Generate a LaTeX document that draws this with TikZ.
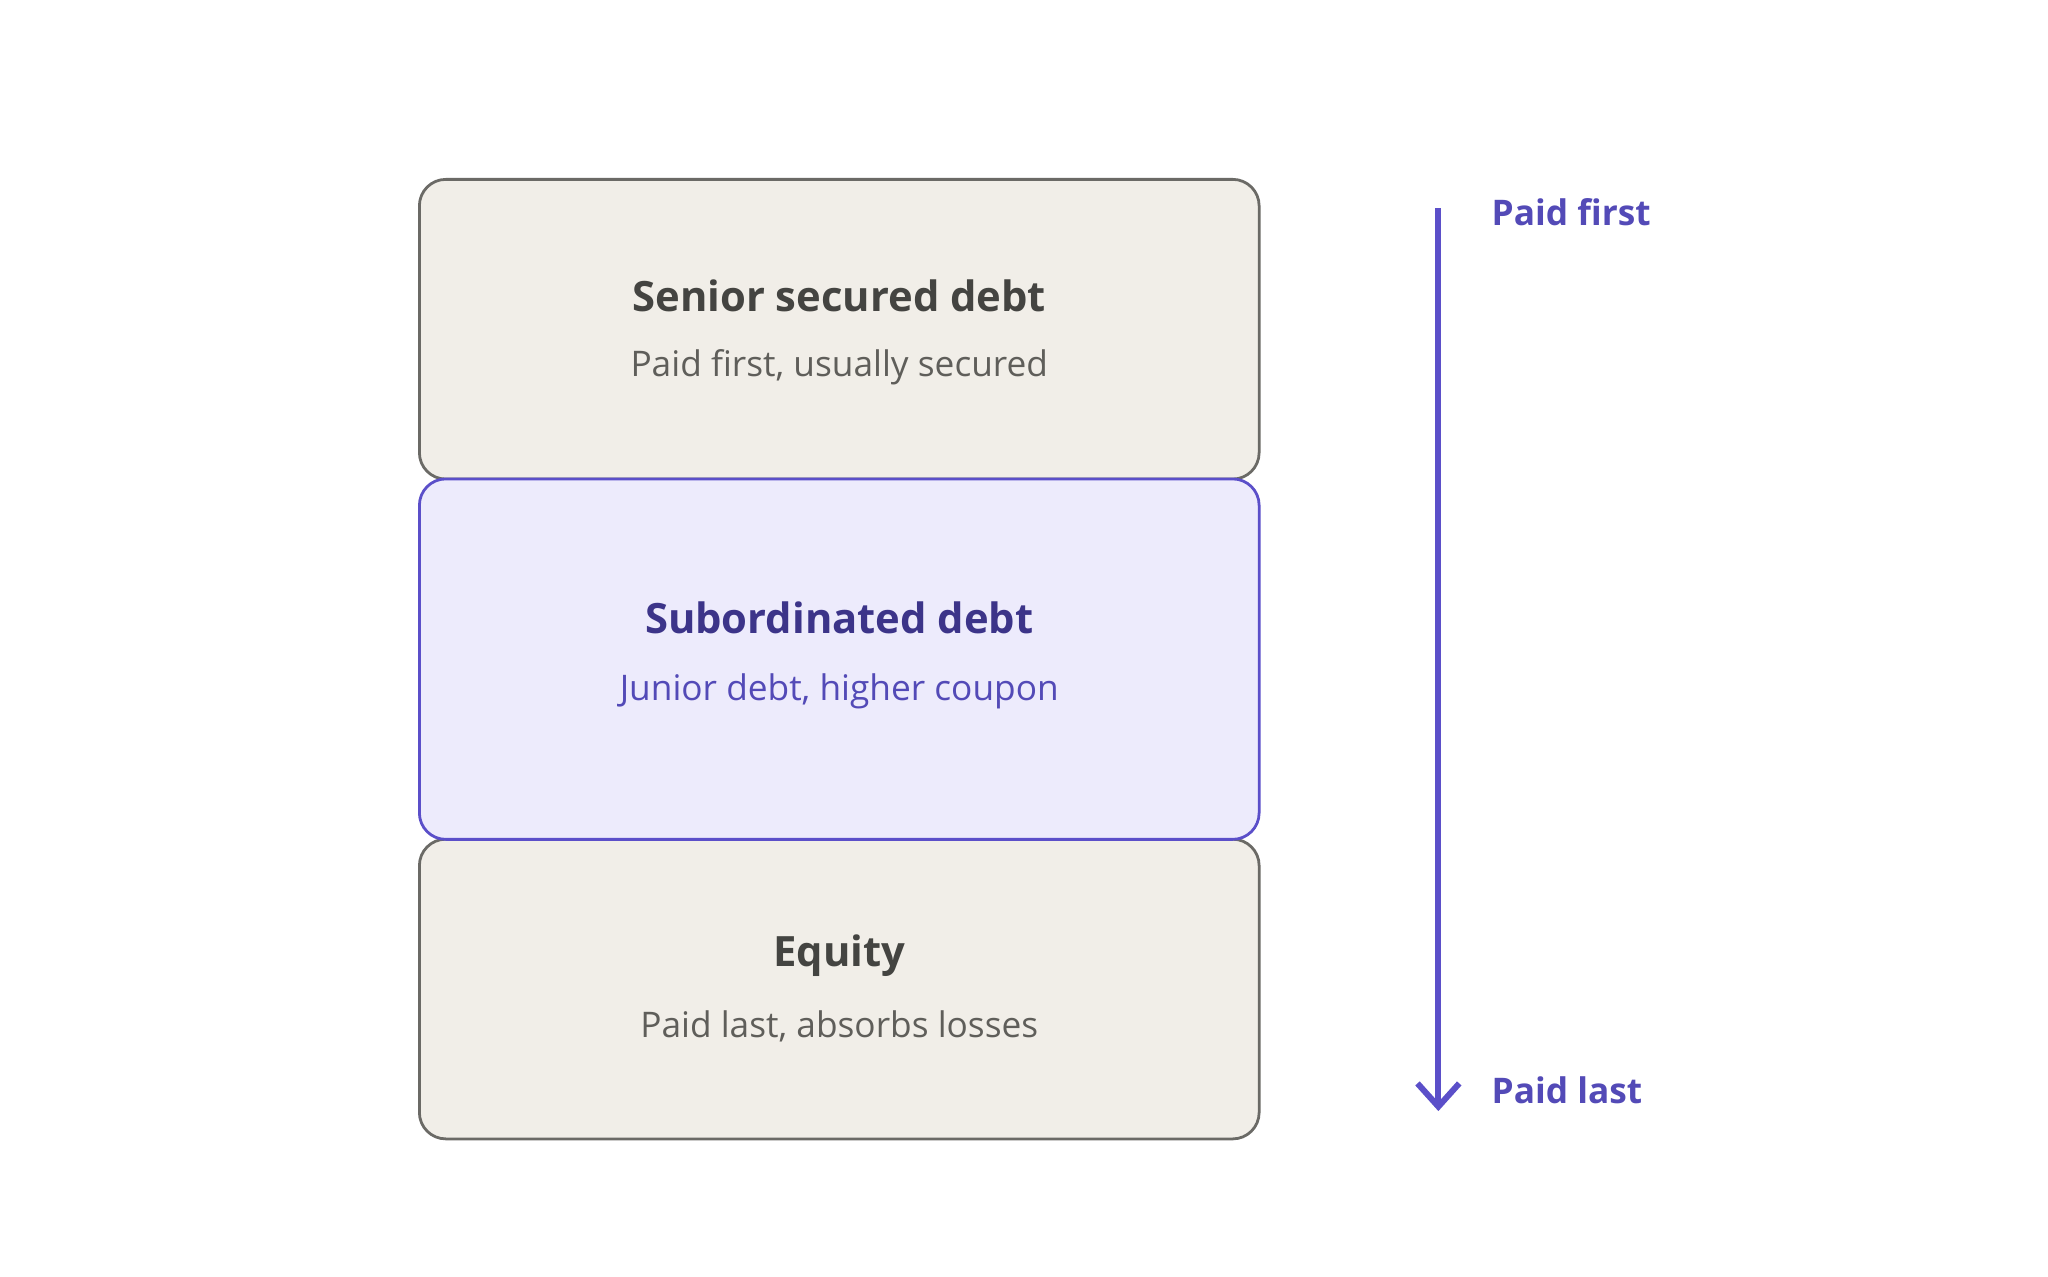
\documentclass[tikz,border=0pt]{standalone}
\usepackage{fontspec}
\setmainfont{Open Sans}
\usetikzlibrary{arrows.meta}
\definecolor{beige}{HTML}{F1EEE8}
\definecolor{greyline}{HTML}{6B6A66}
\definecolor{lilac}{HTML}{EDEBFC}
\definecolor{violet}{HTML}{5B4FC9}
\definecolor{darkviolet}{HTML}{3C3489}
\definecolor{midviolet}{HTML}{534AB7}
\definecolor{darktext}{HTML}{444441}
\definecolor{greytext}{HTML}{5F5E5A}
\begin{document}
\begin{tikzpicture}
  [x=0.01cm,y=-0.01cm]
  \tikzset{layer/.style = {draw=greyline, fill=beige, line width=0.6pt, rounded corners=0.2cm, minimum width=6.36cm, inner sep=0pt},
    title/.style = {font=\fontsize{9}{11}\selectfont\bfseries, text=darktext},
    sub/.style = {font=\fontsize{7.6}{9}\selectfont, text=greytext},
    side/.style = {font=\fontsize{7.6}{9}\selectfont\bfseries, text=midviolet, anchor=west}}
  \useasboundingbox (0,0) rectangle (1552,967);
  \node[layer, minimum height=2.27cm] (senior) at (636,249.5) {};
  \node[layer, minimum height=2.27cm] (equity) at (636,749.5) {};
  \node[layer, draw=violet, fill=lilac, minimum height=2.73cm] (subord) at (636,499.5) {};
  \node[title] (seniorT) at (636,224) {Senior secured debt};
  \node[sub] (seniorS) at (636,278) {Paid first, usually secured};
  \node[title, text=darkviolet] (subordT) at (636,468) {Subordinated debt};
  \node[sub, text=midviolet] (subordS) at (636,524) {Junior debt, higher coupon};
  \node[title] (equityT) at (636,724) {Equity};
  \node[sub] (equityS) at (636,778) {Paid last, absorbs losses};
  \coordinate (top) at (1090,158);
  \coordinate (bottom) at (1090,842);
  \draw[violet, line width=1.3pt, -{Straight Barb[length=5pt,width=9pt]}] (top) -- (bottom);
  \node[side] (first) at (1118,161) {Paid first};
  \node[side] (last) at (1118,826) {Paid last};
\end{tikzpicture}
\end{document}
